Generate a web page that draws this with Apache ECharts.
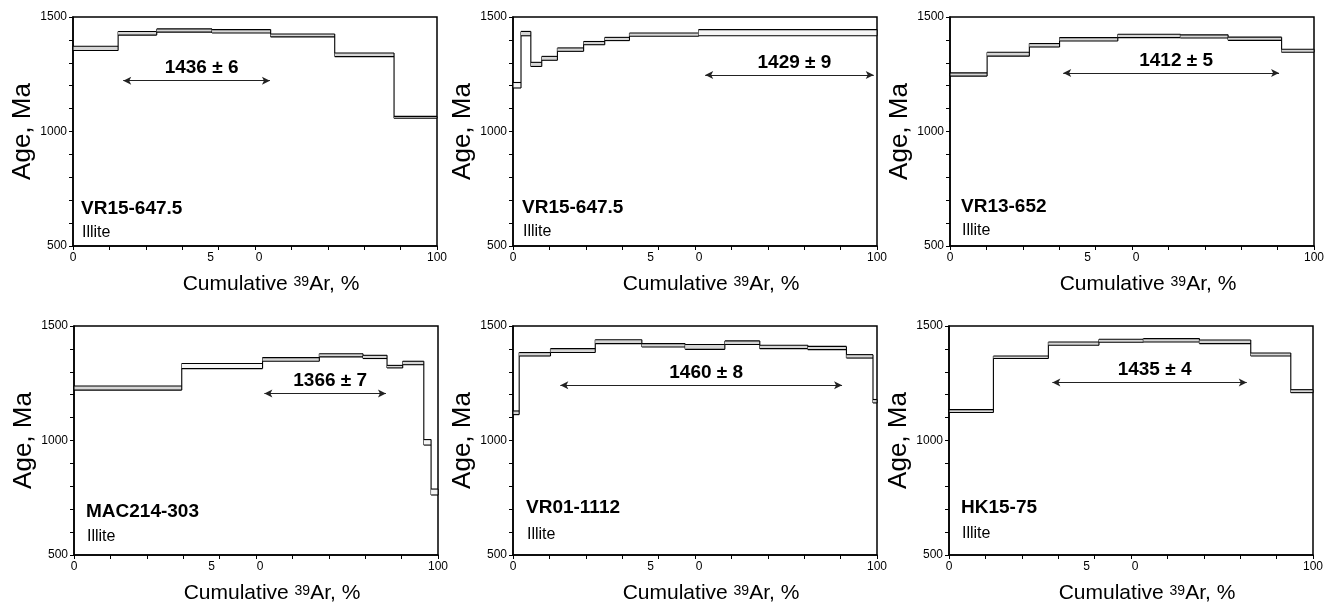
<!DOCTYPE html>
<html>
<head>
<meta charset="utf-8">
<script src="https://cdn.jsdelivr.net/npm/echarts@6/dist/echarts.min.js"></script>
<style>
html,body{margin:0;padding:0;background:#fff;}
#chart{width:1333px;height:605px;}
</style>
</head>
<body>
<div id="chart"></div>
<script>
// ---- Data ----
// Cumulative 39Ar release boundaries (%), step age lower/upper bounds (Ma)
const p1Cum = [0, 12.4, 23.0, 38.2, 54.3, 71.9, 88.2, 100];
const p1Lo  = [1354, 1421, 1434, 1430, 1413, 1327, 1058];
const p1Hi  = [1372, 1437, 1448, 1445, 1426, 1343, 1066];

const p2Cum = [0, 2.2, 4.9, 7.9, 12.2, 19.4, 25.2, 32.0, 51.0, 100];
const p2Lo  = [1190, 1418, 1284, 1311, 1350, 1379, 1397, 1416, 1418];
const p2Hi  = [1214, 1437, 1302, 1328, 1365, 1393, 1411, 1430, 1445];

const p3Cum = [0, 10.2, 21.8, 30.1, 46.1, 63.3, 76.4, 91.1, 100];
const p3Lo  = [1242, 1329, 1369, 1395, 1410, 1408, 1398, 1346];
const p3Hi  = [1256, 1346, 1384, 1410, 1425, 1422, 1412, 1359];

const p4Cum = [0, 29.6, 51.8, 67.4, 79.4, 86.0, 90.3, 96.1, 98.1, 100];
const p4Lo  = [1220, 1314, 1346, 1365, 1358, 1317, 1331, 980, 762];
const p4Hi  = [1238, 1336, 1362, 1379, 1372, 1328, 1346, 1004, 788];

const p5Cum = [0, 1.7, 10.3, 22.6, 35.4, 47.3, 58.2, 67.8, 81.0, 91.6, 98.9, 100];
const p5Lo  = [1113, 1369, 1384, 1423, 1408, 1398, 1419, 1401, 1397, 1360, 1164];
const p5Hi  = [1129, 1384, 1401, 1440, 1423, 1419, 1435, 1416, 1411, 1375, 1179];

const p6Cum = [0, 12.2, 27.3, 41.2, 53.4, 68.8, 82.9, 93.9, 100];
const p6Lo  = [1122, 1358, 1416, 1429, 1430, 1423, 1369, 1209];
const p6Hi  = [1135, 1369, 1430, 1442, 1445, 1439, 1382, 1222];

// Plateau arrows: [start %, end %, age at which arrow is drawn]
const plateauRange = [
  [13.8, 54.1, 1222],
  [52.8, 99.1, 1247],
  [31.1, 90.4, 1256],
  [52.3, 85.7, 1205],
  [13.0, 90.4, 1241],
  [28.4, 81.8, 1253]
];
const plateauAge = ['1436 ± 6', '1429 ± 9', '1412 ± 5', '1366 ± 7', '1460 ± 8', '1435 ± 4'];
const sampleNames = ['VR15-647.5', 'VR15-647.5', 'VR13-652', 'MAC214-303', 'VR01-1112', 'HK15-75'];
const mineral = ['Illite', 'Illite', 'Illite', 'Illite', 'Illite', 'Illite'];

// Axis ticks
const xMin = 0, xMax = 100, xStep = 10;
const yMin = 500, yMax = 1500, yStep = 100;
const yLabelled = [500, 1000, 1500];

// ---- Layout ----
const FONT = '"Liberation Sans", Arial, Helvetica, sans-serif';
const gridsPos = [
  {left: 73,  top: 17},
  {left: 513, top: 17},
  {left: 950, top: 17},
  {left: 74,  top: 326},
  {left: 513, top: 326},
  {left: 949, top: 326}
];
const GW = 364, GH = 229;
const labelPos = [
  {x: 81,  y1: 209, y2: 233},
  {x: 522, y1: 208, y2: 232},
  {x: 961, y1: 207, y2: 231},
  {x: 86,  y1: 512, y2: 537},
  {x: 526, y1: 508, y2: 535},
  {x: 961, y1: 508, y2: 534}
];

const panels = [
  [p1Cum, p1Lo, p1Hi],
  [p2Cum, p2Lo, p2Hi],
  [p3Cum, p3Lo, p3Hi],
  [p4Cum, p4Lo, p4Hi],
  [p5Cum, p5Lo, p5Hi],
  [p6Cum, p6Lo, p6Hi]
];

const grid = [], xAxis = [], yAxis = [], series = [], graphic = [];

panels.forEach(function (p, k) {
  const cum = p[0], lo = p[1], hi = p[2];
  grid.push({
    left: gridsPos[k].left, top: gridsPos[k].top, width: GW, height: GH,
    show: true, borderColor: '#000', borderWidth: 1.5, backgroundColor: 'transparent'
  });
  xAxis.push({
    gridIndex: k, type: 'value', min: xMin, max: xMax, interval: xStep,
    axisLine: {show: true, onZero: false, lineStyle: {color: '#000', width: 1.5}},
    axisTick: {show: true, length: 4, inside: false, lineStyle: {color: '#000', width: 1}},
    splitLine: {show: false},
    axisLabel: {
      color: '#000', fontSize: 12, fontFamily: FONT, margin: 6,
      formatter: function (v) {
        if (v === 0) return '0';
        if (v === 40) return '{l|5}';
        if (v === 50) return '{r|0}';
        if (v === 100) return '100';
        return '';
      },
      rich: {
        l: {fontSize: 12, fontFamily: FONT, color: '#000', padding: [0, 16, 0, 0]},
        r: {fontSize: 12, fontFamily: FONT, color: '#000', padding: [0, 0, 0, 8]}
      }
    },
    name: '{a|Cumulative }{s|39}{a|Ar, %}',
    nameLocation: 'middle', nameGap: 26,
    nameTextStyle: {
      padding: [0, 0, 0, 32],
      rich: {
        a: {fontSize: 21, fontFamily: FONT, color: '#000', lineHeight: 24, verticalAlign: 'middle'},
        s: {fontSize: 14, fontFamily: FONT, color: '#000', lineHeight: 14, verticalAlign: 'middle', padding: [0, 0, 3, 0]}
      }
    }
  });
  yAxis.push({
    gridIndex: k, type: 'value', min: yMin, max: yMax, interval: yStep,
    axisLine: {show: true, onZero: false, lineStyle: {color: '#000', width: 1.5}},
    axisTick: {show: true, length: 4, inside: false, lineStyle: {color: '#000', width: 1}},
    splitLine: {show: false},
    axisLabel: {
      color: '#000', fontSize: 12, fontFamily: FONT, margin: 6,
      formatter: function (v) { return yLabelled.indexOf(v) >= 0 ? String(v) : ''; }
    },
    name: 'Age, Ma', nameLocation: 'middle', nameGap: 37,
    nameTextStyle: {fontSize: 26, fontFamily: FONT, color: '#000'}
  });

  const data = [];
  for (let i = 0; i < lo.length; i++) data.push([cum[i], cum[i + 1], lo[i], hi[i]]);

  series.push({
    type: 'custom', xAxisIndex: k, yAxisIndex: k, silent: true,
    data: data,
    renderItem: function (params, api) {
      const i = params.dataIndex;
      const x0 = api.value(0), x1 = api.value(1), l = api.value(2), h = api.value(3);
      const tl = api.coord([x0, h]), br = api.coord([x1, l]);
      const st = {stroke: '#000', lineWidth: 1.1, fill: null};
      const bandH = br[1] - tl[1];
      const children = [
        {type: 'rect', shape: {x: tl[0], y: tl[1], width: br[0] - tl[0], height: bandH},
         style: {fill: bandH < 5 ? '#d6d6d6' : '#f6f6f6', stroke: null}},
        {type: 'line', shape: {x1: tl[0], y1: tl[1], x2: br[0], y2: tl[1]}, style: st},
        {type: 'line', shape: {x1: tl[0], y1: br[1], x2: br[0], y2: br[1]}, style: st}
      ];
      let vLo = l, vHi = h;
      if (i + 1 < lo.length) {
        vLo = Math.min(l, lo[i + 1]);
        vHi = Math.max(h, hi[i + 1]);
      }
      const a = api.coord([x1, vHi]), b = api.coord([x1, vLo]);
      children.push({type: 'line', shape: {x1: a[0], y1: a[1], x2: b[0], y2: b[1]}, style: st});
      if (i === 0) {
        children.push({type: 'line', shape: {x1: tl[0], y1: tl[1], x2: tl[0], y2: br[1]}, style: st});
      }
      return {type: 'group', children: children};
    }
  });

  const pr = plateauRange[k];
  series.push({
    type: 'line', xAxisIndex: k, yAxisIndex: k, data: [], silent: true,
    markLine: {
      silent: true, animation: false,
      symbol: ['arrow', 'arrow'], symbolSize: [6, 8],
      lineStyle: {color: '#222', width: 1, type: 'solid'},
      label: {
        show: true, position: 'insideMiddleTop', distance: 3,
        formatter: plateauAge[k], color: '#000', fontSize: 19, fontWeight: 'bold',
        fontFamily: FONT, padding: [0, 0, 0, 10]
      },
      data: [[{coord: [pr[0], pr[2]]}, {coord: [pr[1], pr[2]]}]]
    }
  });

  graphic.push({
    type: 'text', x: labelPos[k].x, y: labelPos[k].y1, silent: true,
    style: {text: sampleNames[k], font: 'bold 19px ' + FONT, fill: '#000', textVerticalAlign: 'middle'}
  });
  graphic.push({
    type: 'text', x: labelPos[k].x + 1, y: labelPos[k].y2, silent: true,
    style: {text: mineral[k], font: '16px ' + FONT, fill: '#000', textVerticalAlign: 'middle'}
  });
});

const chart = echarts.init(document.getElementById('chart'), null, {renderer: 'canvas'});
chart.setOption({
  animation: false,
  backgroundColor: '#fff',
  grid: grid, xAxis: xAxis, yAxis: yAxis, series: series, graphic: graphic
});
</script>
</body>
</html>
